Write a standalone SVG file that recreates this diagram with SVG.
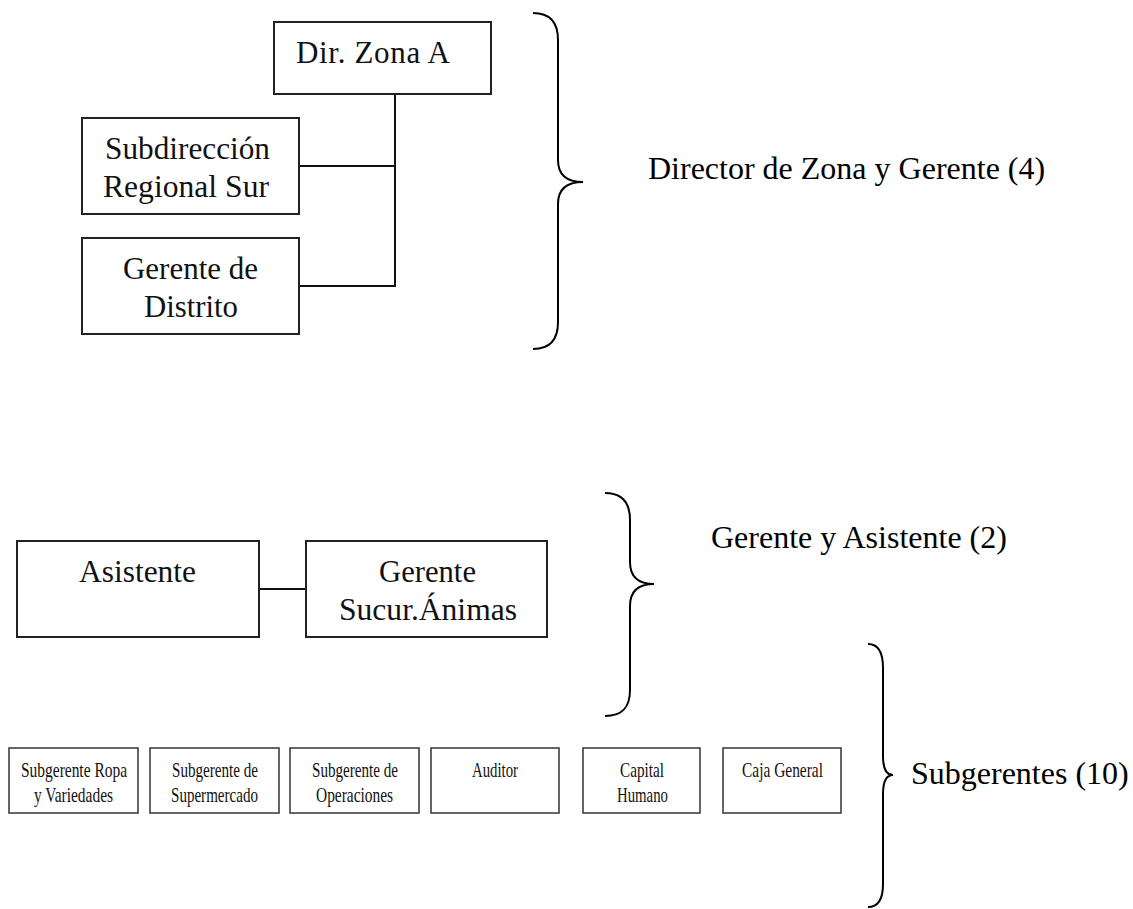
<svg xmlns="http://www.w3.org/2000/svg" width="1133" height="909" viewBox="0 0 1133 909">
  <style>
    .box { fill: #ffffff; stroke: #222222; stroke-width: 2; }
    .sbox { fill: #ffffff; stroke: #333333; stroke-width: 1.5; }
    .link { fill: none; stroke: #111111; stroke-width: 2; }
    .brace { fill: none; stroke: #000000; stroke-width: 2; }
    .lbl { font-family: "Liberation Serif", "Times New Roman", serif; font-size: 31px; fill: #111111; text-anchor: middle; }
    .slbl { font-family: "Liberation Serif", "Times New Roman", serif; font-size: 21px; fill: #111111; text-anchor: middle; }
    .cap { font-family: "Liberation Serif", "Times New Roman", serif; font-size: 32px; fill: #000000; }
  </style>
  <rect width="1133" height="909" fill="#ffffff"/>

  <!-- reporting lines -->
  <g id="connectors">
    <path class="link" d="M395,94 V286 H299 M299,166 H395"/>
    <path class="link" d="M259,589 H306"/>
  </g>

  <!-- upper hierarchy -->
  <g id="dir-zona-a">
    <rect class="box" x="274" y="22" width="217" height="72"/>
    <text class="lbl" x="373" y="63" textLength="154" lengthAdjust="spacing">Dir. Zona A</text>
  </g>
  <g id="subdireccion">
    <rect class="box" x="82" y="118" width="217" height="96"/>
    <text class="lbl" x="187.5" y="159" textLength="165" lengthAdjust="spacingAndGlyphs">Subdirección</text>
    <text class="lbl" x="186" y="197" textLength="166" lengthAdjust="spacingAndGlyphs">Regional Sur</text>
  </g>
  <g id="gerente-distrito">
    <rect class="box" x="82" y="238" width="217" height="96"/>
    <text class="lbl" x="190.5" y="279" textLength="135" lengthAdjust="spacingAndGlyphs">Gerente de</text>
    <text class="lbl" x="191" y="317" textLength="94" lengthAdjust="spacingAndGlyphs">Distrito</text>
  </g>

  <!-- branch management -->
  <g id="asistente">
    <rect class="box" x="17" y="541" width="242" height="96"/>
    <text class="lbl" x="137.5" y="582" textLength="117" lengthAdjust="spacingAndGlyphs">Asistente</text>
  </g>
  <g id="gerente-sucursal">
    <rect class="box" x="306" y="541" width="241" height="96"/>
    <text class="lbl" x="427.5" y="582" textLength="97" lengthAdjust="spacingAndGlyphs">Gerente</text>
    <text class="lbl" x="428" y="620" textLength="178" lengthAdjust="spacingAndGlyphs">Sucur.Ánimas</text>
  </g>

  <!-- sub-managers -->
  <g id="sub-ropa">
    <rect class="sbox" x="9" y="748" width="129" height="65"/>
    <text class="slbl" x="74" y="777" textLength="106" lengthAdjust="spacingAndGlyphs">Subgerente Ropa</text>
    <text class="slbl" x="73.5" y="802" textLength="79" lengthAdjust="spacingAndGlyphs">y Variedades</text>
  </g>
  <g id="sub-super">
    <rect class="sbox" x="150" y="748" width="129" height="65"/>
    <text class="slbl" x="215" y="777" textLength="86" lengthAdjust="spacingAndGlyphs">Subgerente de</text>
    <text class="slbl" x="214.5" y="802" textLength="87" lengthAdjust="spacingAndGlyphs">Supermercado</text>
  </g>
  <g id="sub-operaciones">
    <rect class="sbox" x="290" y="748" width="129" height="65"/>
    <text class="slbl" x="355" y="777" textLength="86" lengthAdjust="spacingAndGlyphs">Subgerente de</text>
    <text class="slbl" x="354.5" y="802" textLength="77" lengthAdjust="spacingAndGlyphs">Operaciones</text>
  </g>
  <g id="auditor">
    <rect class="sbox" x="431" y="748" width="128" height="65"/>
    <text class="slbl" x="495" y="777" textLength="46" lengthAdjust="spacingAndGlyphs">Auditor</text>
  </g>
  <g id="capital-humano">
    <rect class="sbox" x="583" y="748" width="117" height="65"/>
    <text class="slbl" x="642" y="777" textLength="44" lengthAdjust="spacingAndGlyphs">Capital</text>
    <text class="slbl" x="642.5" y="802" textLength="51" lengthAdjust="spacingAndGlyphs">Humano</text>
  </g>
  <g id="caja-general">
    <rect class="sbox" x="723" y="748" width="118" height="65"/>
    <text class="slbl" x="782.5" y="777" textLength="81" lengthAdjust="spacingAndGlyphs">Caja General</text>
  </g>

  <!-- grouping braces and captions -->
  <g id="group-direccion">
    <path class="brace" d="M533,13 C550,13 558,22 558,40 L558,160 C558,174 566,182 583,182 C566,182 558,190 558,204 L558,322 C558,340 550,349 533,349"/>
    <text class="cap" x="648" y="179">Director de Zona y Gerente (4)</text>
  </g>
  <g id="group-gerencia">
    <path class="brace" d="M605,493 C622,493 630,502 630,520 L630,562 C630,576 638,584 654,584 C638,584 630,592 630,606 L630,690 C630,708 622,716 605,716"/>
    <text class="cap" x="711" y="548">Gerente y Asistente (2)</text>
  </g>
  <g id="group-subgerentes">
    <path class="brace" d="M868,644 C878,644 883,652 883,668 L883,756 C883,768 886,775 893,775 C886,775 883,782 883,794 L883,884 C883,899 878,907 868,907"/>
    <text class="cap" x="911" y="784">Subgerentes (10)</text>
  </g>
</svg>
